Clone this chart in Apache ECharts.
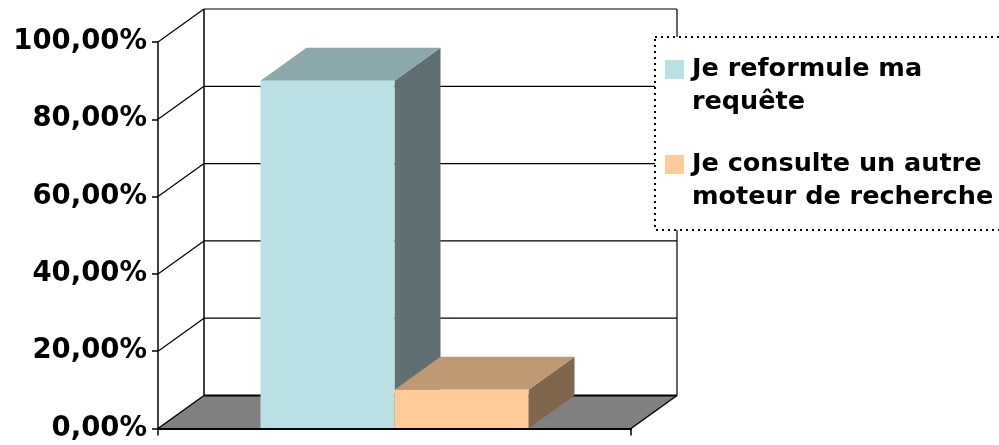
<!DOCTYPE html>
<html>
<head>
<meta charset="utf-8">
<script src="https://cdn.jsdelivr.net/npm/echarts@6/dist/echarts.min.js"></script>
<style>
  html, body { margin: 0; padding: 0; background: #fff; }
  #chart { width: 999px; height: 445px; }
</style>
</head>
<body>
<div id="chart"></div>
<script>
// Data
const categories = [''];
const seriesNames = ['Je reformule ma requête', 'Je consulte un autre moteur de recherche'];
const reformuleValues = [90];
const autreMoteurValues = [10];
const tickValues = [0, 20, 40, 60, 80, 100];

// Styling constants
const FONT = 'DejaVu Sans';
const DEPTH_X = 46;   // horizontal depth offset of the 3D box
const DEPTH_Y = 33;   // vertical depth offset of the 3D box
const BAR_RATIO = 0.2833; // share of the category band taken by one bar

const palette = [
  { front: '#BBE0E3', top: '#8CA8AA', side: '#5E7072' },
  { front: '#FFCC99', top: '#BF9973', side: '#80664D' }
];

function pctLabel(v) {
  return v.toFixed(2).replace('.', ',') + '%';
}

// Floor, side wall and back wall of the 3D box
function frameRenderer(params, api) {
  const cs = params.coordSys;
  const v = api.value(1);
  const y = api.coord([0, v])[1];
  const xl = cs.x, xr = cs.x + cs.width;
  const black = '#000';
  const children = [];
  if (v === 0) {
    children.push({
      type: 'polygon',
      shape: { points: [[xl, y], [xl + DEPTH_X, y - DEPTH_Y], [xr + DEPTH_X, y - DEPTH_Y], [xr, y]] },
      style: { fill: '#808080' }
    });
    children.push({ type: 'line', shape: { x1: xl + DEPTH_X, y1: y - DEPTH_Y, x2: xr + DEPTH_X, y2: y - DEPTH_Y }, style: { stroke: black, lineWidth: 2 } });
    children.push({ type: 'line', shape: { x1: xl, y1: y, x2: xl + DEPTH_X, y2: y - DEPTH_Y }, style: { stroke: black, lineWidth: 1.5 } });
    children.push({ type: 'line', shape: { x1: xr, y1: y, x2: xr + DEPTH_X, y2: y - DEPTH_Y }, style: { stroke: black, lineWidth: 1.5 } });
    // back wall verticals
    children.push({ type: 'line', shape: { x1: xl + DEPTH_X, y1: y - DEPTH_Y, x2: xl + DEPTH_X, y2: cs.y - DEPTH_Y }, style: { stroke: black, lineWidth: 1.5 } });
    children.push({ type: 'line', shape: { x1: xr + DEPTH_X, y1: y - DEPTH_Y, x2: xr + DEPTH_X, y2: cs.y - DEPTH_Y }, style: { stroke: '#333', lineWidth: 1.5 } });
  } else {
    children.push({ type: 'line', shape: { x1: xl, y1: y, x2: xl + DEPTH_X, y2: y - DEPTH_Y }, style: { stroke: black, lineWidth: 1.2 } });
    children.push({ type: 'line', shape: { x1: xl + DEPTH_X, y1: y - DEPTH_Y, x2: xr + DEPTH_X, y2: y - DEPTH_Y }, style: { stroke: black, lineWidth: 1.2 } });
  }
  return { type: 'group', children: children };
}

// 3D bar: side face, top face, front face
function barRenderer(slot) {
  return function (params, api) {
    const cat = api.value(0), val = api.value(1);
    const base = api.coord([cat, 0]);
    const topPt = api.coord([cat, val]);
    const band = api.size([1, 0])[0];
    const w = band * BAR_RATIO;
    const x0 = base[0] - w + slot * w;
    const x1 = x0 + w;
    const yb = base[1], yt = topPt[1];
    const c = palette[slot];
    return {
      type: 'group',
      children: [
        { type: 'polygon', shape: { points: [[x1, yb], [x1 + DEPTH_X, yb - DEPTH_Y], [x1 + DEPTH_X, yt - DEPTH_Y], [x1, yt]] }, style: { fill: c.side } },
        { type: 'polygon', shape: { points: [[x0, yt], [x0 + DEPTH_X, yt - DEPTH_Y], [x1 + DEPTH_X, yt - DEPTH_Y], [x1, yt]] }, style: { fill: c.top } },
        { type: 'rect', shape: { x: x0, y: yt, width: w, height: yb - yt }, style: { fill: c.front } }
      ]
    };
  };
}

const chart = echarts.init(document.getElementById('chart'), null, { renderer: 'canvas' });

chart.setOption({
  animation: false,
  backgroundColor: '#fff',
  grid: { left: 158, top: 42, right: 368, bottom: 16.5, containLabel: false },
  xAxis: {
    type: 'category',
    data: categories,
    z: 10,
    axisLine: { show: true, lineStyle: { color: '#000', width: 2 } },
    axisTick: { show: true, length: 7, lineStyle: { color: '#000', width: 1.5 } },
    axisLabel: { show: false },
    splitLine: { show: false }
  },
  yAxis: {
    type: 'value',
    min: 0,
    max: 100,
    interval: 20,
    axisLine: { show: true, lineStyle: { color: '#000', width: 1.5 } },
    axisTick: { show: true, length: 6, lineStyle: { color: '#000', width: 1.5 } },
    axisLabel: {
      formatter: pctLabel,
      margin: 11,
      color: '#000',
      fontFamily: FONT,
      fontWeight: 'bold',
      fontSize: 27.5,
      padding: [4, 0, 0, 0]
    },
    splitLine: { show: false }
  },
  legend: {
    orient: 'vertical',
    left: 665,
    top: 20,
    padding: 0,
    itemWidth: 19,
    itemHeight: 19,
    itemGap: -4,
    icon: 'rect',
    selectedMode: false,
    z: 6,
    data: seriesNames.map(function (n, i) {
      return { name: n, itemStyle: { color: palette[i].front } };
    }),
    // a leading empty line keeps the first text line level with the swatch
    formatter: function (name) { return '\n' + name; },
    textStyle: {
      fontFamily: FONT,
      fontWeight: 'bold',
      fontSize: 25.5,
      color: '#000',
      lineHeight: 33,
      width: 310,
      overflow: 'break',
      padding: [0, 0, 0, 3]
    }
  },
  graphic: [{
    type: 'rect',
    z: 5,
    shape: { x: 655, y: 37, width: 400, height: 193 },
    style: { fill: '#fff', stroke: '#000', lineWidth: 2, lineDash: [2, 4] }
  }],
  series: [
    {
      type: 'custom',
      name: 'cadre',
      renderItem: frameRenderer,
      encode: { x: 0, y: 1 },
      data: tickValues.map(function (v) { return [0, v]; }),
      silent: true,
      z: 1
    },
    {
      type: 'custom',
      name: seriesNames[0],
      renderItem: barRenderer(0),
      encode: { x: 0, y: 1 },
      itemStyle: { color: palette[0].front },
      data: reformuleValues.map(function (v, i) { return [i, v]; }),
      z: 2
    },
    {
      type: 'custom',
      name: seriesNames[1],
      renderItem: barRenderer(1),
      encode: { x: 0, y: 1 },
      itemStyle: { color: palette[1].front },
      data: autreMoteurValues.map(function (v, i) { return [i, v]; }),
      z: 3
    }
  ]
});
</script>
</body>
</html>
